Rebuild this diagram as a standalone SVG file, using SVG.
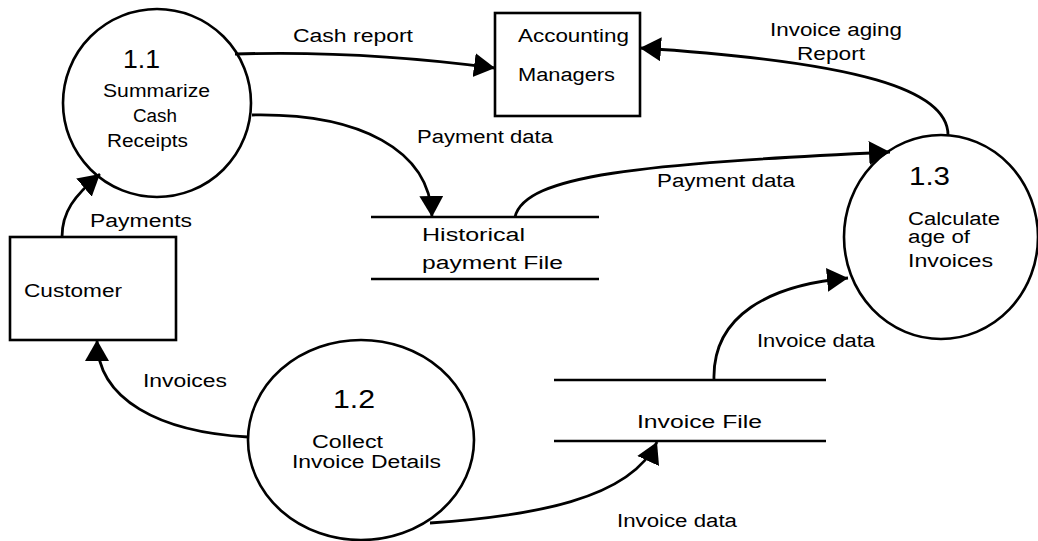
<svg xmlns="http://www.w3.org/2000/svg" width="1038" height="541" viewBox="0 0 1038 541">
<style>
.shape{fill:none;stroke:#000;stroke-width:2.6}
.line{fill:none;stroke:#000;stroke-width:2.6}
.flow{fill:none;stroke:#000;stroke-width:2.8;marker-end:url(#arr)}
text{font-family:"Liberation Sans",Arial,sans-serif;fill:#000;font-size:18px}
.num{font-size:25px}
.lbl{font-size:18px}
</style>
<defs>
<marker id="arr" markerUnits="userSpaceOnUse" markerWidth="24" markerHeight="26" refX="21" refY="12" orient="auto">
<path d="M0,0 L21,12 L0,24 z" fill="#000"/>
</marker>
</defs>
<rect width="1038" height="541" fill="#fff"/>
<g id="p11">
<circle class="shape" cx="157" cy="103" r="94"/>
<text class="num" x="123" y="68" textLength="37" lengthAdjust="spacingAndGlyphs">1.1</text>
<text x="103" y="97" textLength="107" lengthAdjust="spacingAndGlyphs">Summarize</text>
<text x="133" y="122" textLength="44" lengthAdjust="spacingAndGlyphs">Cash</text>
<text x="107" y="147" textLength="81" lengthAdjust="spacingAndGlyphs">Receipts</text>
</g>
<g id="p12">
<ellipse class="shape" cx="361" cy="440" rx="113" ry="100"/>
<text class="num" x="333" y="408" textLength="42" lengthAdjust="spacingAndGlyphs">1.2</text>
<text x="312" y="448" textLength="71" lengthAdjust="spacingAndGlyphs">Collect</text>
<text x="292" y="468" textLength="149" lengthAdjust="spacingAndGlyphs">Invoice Details</text>
</g>
<g id="p13">
<ellipse class="shape" cx="941" cy="237" rx="97" ry="102"/>
<text class="num" x="909" y="185" textLength="41" lengthAdjust="spacingAndGlyphs">1.3</text>
<text x="908" y="225" textLength="92" lengthAdjust="spacingAndGlyphs">Calculate</text>
<text x="908" y="243" textLength="62" lengthAdjust="spacingAndGlyphs">age of</text>
<text x="908" y="267" textLength="85" lengthAdjust="spacingAndGlyphs">Invoices</text>
</g>
<g id="accounting">
<rect class="shape" x="495" y="13" width="145" height="103"/>
<text x="518" y="42" font-size="20" textLength="111" lengthAdjust="spacingAndGlyphs">Accounting</text>
<text x="518" y="81" font-size="20" textLength="97" lengthAdjust="spacingAndGlyphs">Managers</text>
</g>
<g id="customer">
<rect class="shape" x="10" y="237" width="166" height="103"/>
<text x="24" y="297" font-size="19" textLength="98" lengthAdjust="spacingAndGlyphs">Customer</text>
</g>
<g id="historical">
<line class="line" x1="371" y1="217" x2="599" y2="217"/>
<line class="line" x1="371" y1="279" x2="599" y2="279"/>
<text x="422" y="241" font-size="20" textLength="103" lengthAdjust="spacingAndGlyphs">Historical</text>
<text x="422" y="269" font-size="20" textLength="141" lengthAdjust="spacingAndGlyphs">payment File</text>
</g>
<g id="invoicefile">
<line class="line" x1="554" y1="380" x2="826" y2="380"/>
<line class="line" x1="554" y1="441" x2="826" y2="441"/>
<text x="637" y="428" font-size="20" textLength="125" lengthAdjust="spacingAndGlyphs">Invoice File</text>
</g>
<g id="connectors">
<path class="flow" d="M235,54 C330,51 420,58 495,68"/>
<path class="flow" d="M252,115 C360,113 430,150 432,217"/>
<path class="flow" d="M515,217 C525,175 640,164 890,152"/>
<path class="flow" d="M948,135 C948,90 860,62 640,48"/>
<path class="flow" d="M62,237 C62,212 74,196 100,174"/>
<path class="flow" d="M248,437 C160,432 97,400 97,340"/>
<path class="flow" d="M430,523 C530,516 630,500 657,442"/>
<path class="flow" d="M714,380 C712,315 770,285 848,278"/>
<text class="lbl" x="293" y="42" textLength="120" lengthAdjust="spacingAndGlyphs">Cash report</text>
<text class="lbl" x="770" y="36" textLength="132" lengthAdjust="spacingAndGlyphs">Invoice aging</text>
<text class="lbl" x="797" y="60" textLength="68" lengthAdjust="spacingAndGlyphs">Report</text>
<text class="lbl" x="417" y="143" textLength="136" lengthAdjust="spacingAndGlyphs">Payment data</text>
<text class="lbl" x="657" y="187" textLength="138" lengthAdjust="spacingAndGlyphs">Payment data</text>
<text class="lbl" x="90" y="227" textLength="102" lengthAdjust="spacingAndGlyphs">Payments</text>
<text class="lbl" x="143" y="387" textLength="84" lengthAdjust="spacingAndGlyphs">Invoices</text>
<text class="lbl" x="757" y="347" textLength="118" lengthAdjust="spacingAndGlyphs">Invoice data</text>
<text class="lbl" x="617" y="527" textLength="120" lengthAdjust="spacingAndGlyphs">Invoice data</text>
</g>
</svg>
